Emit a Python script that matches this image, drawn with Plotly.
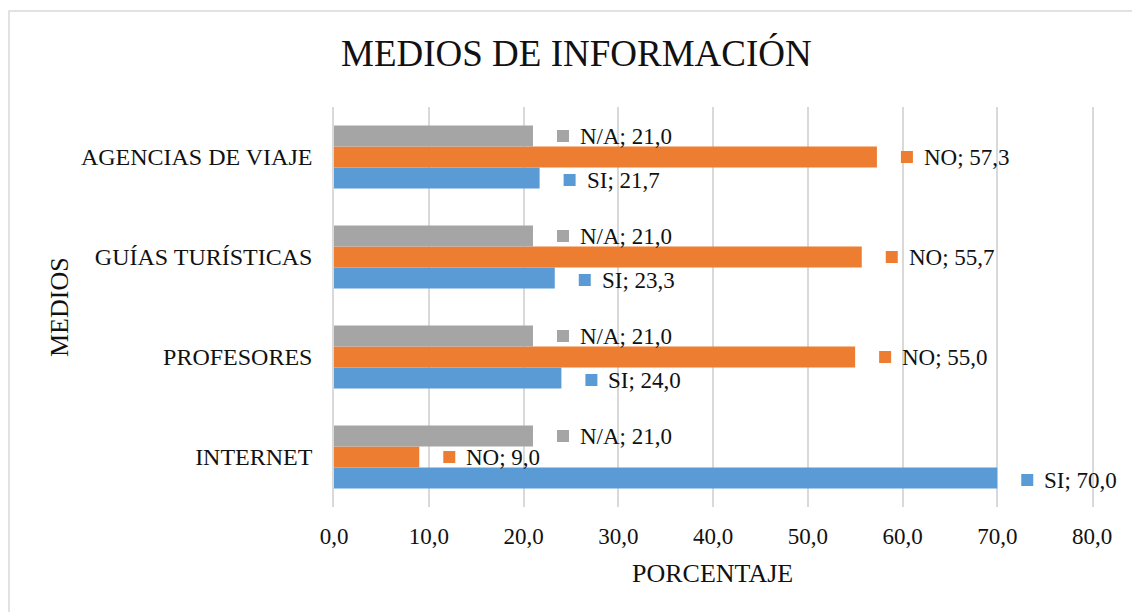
import plotly.graph_objects as go

categories = ["INTERNET", "PROFESORES", "GUÍAS TURÍSTICAS", "AGENCIAS DE VIAJE"]
si_values = [70.0, 24.0, 23.3, 21.7]
no_values = [9.0, 55.0, 55.7, 57.3]
na_values = [21.0, 21.0, 21.0, 21.0]
series_names = ["SI", "NO", "N/A"]
colors = ["#5B9BD5", "#ED7D31", "#A5A5A5"]
x_ticks = [0, 10, 20, 30, 40, 50, 60, 70, 80]

FONT = "Liberation Serif, Times New Roman, serif"
TXT = "#111111"

W, H = 1132, 612
L, R, T, B = 334, 40, 107, 105
PW, PH = W - L - R, H - T - B

ypos = list(range(len(categories)))
series = [si_values, no_values, na_values]
bar_w = 0.21
offsets = [-bar_w, 0.0, bar_w]

fig = go.Figure()
for name, vals, col in zip(series_names, series, colors):
    fig.add_trace(go.Bar(y=ypos, x=vals, orientation="h", name=name,
                         marker=dict(color=col, line=dict(width=0)), showlegend=False))

shapes = []
annotations = []
for name, vals, col, off in zip(series_names, series, colors, offsets):
    ysh = -2 if name == "SI" else 0
    for i, v in enumerate(vals):
        yc = i + off
        shapes.append(dict(type="rect", xref="x", yref="y", xsizemode="pixel", ysizemode="pixel",
                           xanchor=v, yanchor=yc, x0=24, x1=36, y0=-6 + ysh, y1=6 + ysh,
                           fillcolor=col, line=dict(width=0), layer="above"))
        annotations.append(dict(x=v, y=yc, xref="x", yref="y", xanchor="left", yanchor="middle",
                                xshift=45, yshift=ysh, showarrow=False,
                                text=f"{name}; {v:.1f}".replace(".", ","),
                                font=dict(family=FONT, size=23, color=TXT)))

def px_x(p):
    return (p - L) / PW

def px_y(p):
    return (H - B - p) / PH

# outer border
shapes.append(dict(type="rect", xref="paper", yref="paper",
                   x0=px_x(9), x1=px_x(1145), y0=px_y(625), y1=px_y(11),
                   line=dict(color="#D9D9D9", width=1.5), fillcolor="rgba(0,0,0,0)", layer="below"))

annotations.append(dict(text="MEDIOS DE INFORMACIÓN", x=px_x(576), y=px_y(54), xref="paper", yref="paper",
                        xanchor="center", yanchor="middle", showarrow=False,
                        font=dict(family=FONT, size=37, color=TXT)))
annotations.append(dict(text="PORCENTAJE", x=px_x(712), y=px_y(573), xref="paper", yref="paper",
                        xanchor="center", yanchor="middle", showarrow=False,
                        font=dict(family=FONT, size=26, color=TXT)))
annotations.append(dict(text="MEDIOS", x=px_x(59), y=px_y(307), xref="paper", yref="paper",
                        xanchor="center", yanchor="middle", showarrow=False, textangle=-90,
                        font=dict(family=FONT, size=26, color=TXT)))

fig.update_layout(
    width=W, height=H,
    margin=dict(l=L, r=R, t=T, b=B, pad=0),
    paper_bgcolor="white", plot_bgcolor="white",
    barmode="group", bargap=0.37, bargroupgap=0,
    separators=",.",
    shapes=shapes, annotations=annotations,
    xaxis=dict(range=[0, 80], tickvals=x_ticks, tickformat=".1f", showgrid=True,
               gridcolor="#D9D9D9", gridwidth=1.5, zeroline=False, showline=False,
               ticks="", ticklabelstandoff=13,
               tickfont=dict(family=FONT, size=23, color=TXT), fixedrange=True),
    yaxis=dict(range=[-0.5, len(categories) - 0.5], tickvals=ypos, ticktext=categories,
               showgrid=False, zeroline=False, showline=True, mirror=True,
               linecolor="#D9D9D9", linewidth=1.5,
               ticks="", ticklabelstandoff=15,
               tickfont=dict(family=FONT, size=24, color=TXT), fixedrange=True),
)

fig.write_html("out.html", config={"displayModeBar": False},
               post_script="document.body.style.margin='0';document.body.style.overflow='hidden';")
